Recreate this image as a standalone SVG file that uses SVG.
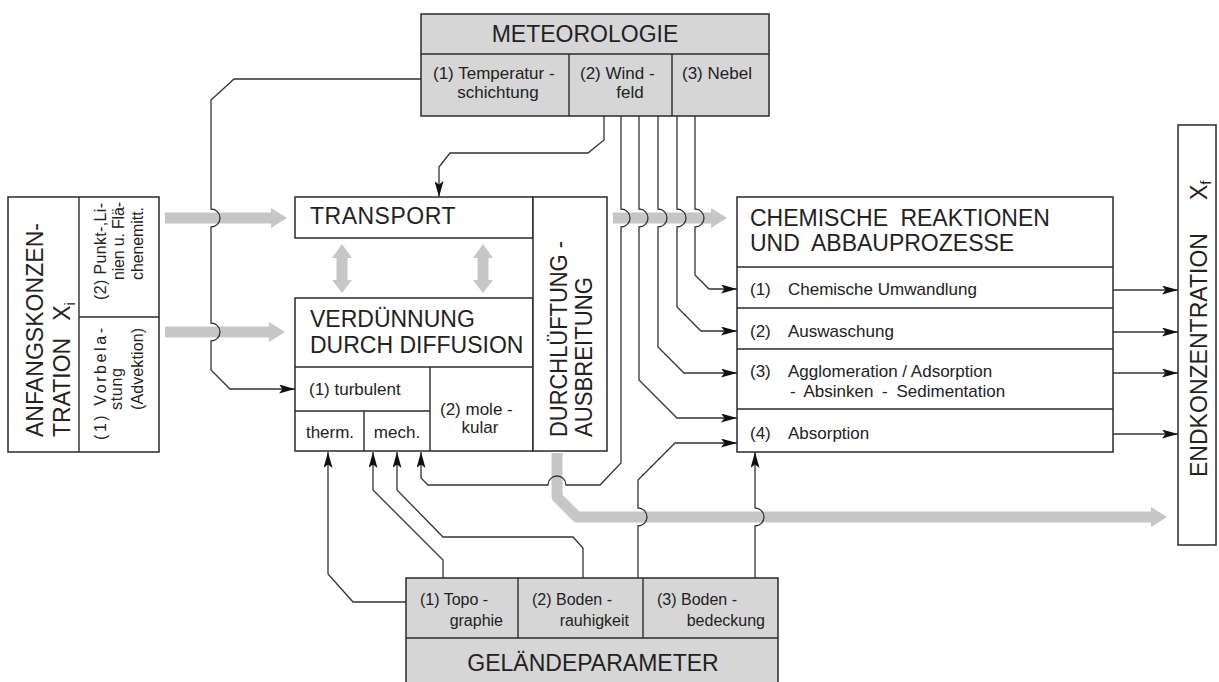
<svg xmlns="http://www.w3.org/2000/svg" width="1219" height="682" viewBox="0 0 1219 682">
<style>
  text { font-family: "Liberation Sans", Arial, sans-serif; fill: #222; }
  .big { font-size: 23px; }
  .sm { font-size: 17px; }
  .gs { font-size: 16px; }
  .rs { font-size: 16px; }
  .box { fill: #fff; stroke: #2a2a2a; stroke-width: 1.5; }
  .gbox { fill: #d6d6d6; stroke: #2a2a2a; stroke-width: 1.5; }
  .div { stroke: #2a2a2a; stroke-width: 1.4; fill: none; }
  .con { stroke: #333; stroke-width: 1.3; fill: none; }
  .arr { marker-end: url(#ah); }
  .flow { stroke: #c6c6c6; stroke-width: 11; fill: none; stroke-linejoin: round; }
  .fhead { fill: #c6c6c6; }
</style>
<defs>
  <marker id="ah" viewBox="0 0 16 9" refX="16" refY="4.5" markerWidth="16" markerHeight="9" markerUnits="userSpaceOnUse" orient="auto">
    <path d="M0,0 L16,4.5 L0,9 L3.5,4.5 Z" fill="#111"/>
  </marker>
</defs>
<rect width="1219" height="682" fill="#fff"/>

<g id="flows">
  <line class="flow" x1="165" y1="218" x2="272" y2="218"/>
  <polygon class="fhead" points="271,208 287,218 271,228"/>
  <line class="flow" x1="165" y1="332" x2="270" y2="332"/>
  <polygon class="fhead" points="269,322 285,332 269,342"/>
  <line class="flow" x1="613" y1="218" x2="712" y2="218"/>
  <polygon class="fhead" points="711,208 727,218 711,228"/>
  <line class="flow" x1="342" y1="256" x2="342" y2="282"/>
  <polygon class="fhead" points="332,258 342,244 352,258"/>
  <polygon class="fhead" points="332,280 342,293 352,280"/>
  <line class="flow" x1="483" y1="256" x2="483" y2="282"/>
  <polygon class="fhead" points="473,258 483,244 493,258"/>
  <polygon class="fhead" points="473,280 483,293 493,280"/>
  <path class="flow" d="M557,453 V497 L577,517 H1152"/>
  <polygon class="fhead" points="1151,507 1167,517 1151,527"/>
</g>

<g id="meteorologie">
  <rect class="gbox" x="421" y="14" width="348" height="102"/>
  <line class="div" x1="421" y1="54" x2="769" y2="54"/>
  <line class="div" x1="569" y1="54" x2="569" y2="116"/>
  <line class="div" x1="672" y1="54" x2="672" y2="116"/>
  <text class="big" x="585" y="42" text-anchor="middle">METEOROLOGIE</text>
  <text class="sm" x="433" y="79">(1) Temperatur -</text>
  <text class="sm" x="498" y="98" text-anchor="middle">schichtung</text>
  <text class="sm" x="580" y="79">(2) Wind -</text>
  <text class="sm" x="630" y="98" text-anchor="middle">feld</text>
  <text class="sm" x="682" y="79">(3) Nebel</text>
</g>

<g id="anfangskonzentration">
  <rect class="box" x="8" y="197" width="151" height="255"/>
  <line class="div" x1="79" y1="197" x2="79" y2="452"/>
  <line class="div" x1="79" y1="317" x2="159" y2="317"/>
  <text class="big" transform="translate(43,437) rotate(-90)" textLength="214" lengthAdjust="spacing">ANFANGSKONZEN-</text>
  <text class="big" transform="translate(70,437) rotate(-90)">TRATION<tspan dx="17">X</tspan><tspan font-size="15" dy="5">i</tspan></text>
  <text class="rs" transform="translate(106,440) rotate(-90)" textLength="112" lengthAdjust="spacing">(1) Vorbela-</text>
  <text class="rs" transform="translate(122,410) rotate(-90)" textLength="42" lengthAdjust="spacing">stung</text>
  <text class="rs" transform="translate(143,410) rotate(-90)" textLength="82" lengthAdjust="spacing">(Advektion)</text>
  <text class="rs" transform="translate(106,300) rotate(-90)" textLength="97" lengthAdjust="spacing">(2) Punkt-,Li-</text>
  <text class="rs" transform="translate(124,280) rotate(-90)" textLength="78" lengthAdjust="spacing">nien u. Flä-</text>
  <text class="rs" transform="translate(143,280) rotate(-90)" textLength="73" lengthAdjust="spacing">chenemitt.</text>
</g>

<g id="transport">
  <rect class="box" x="295" y="197" width="238" height="41"/>
  <text class="big" x="310" y="224" letter-spacing="0.5">TRANSPORT</text>
</g>

<g id="verduennung">
  <rect class="box" x="295" y="298" width="238" height="153"/>
  <line class="div" x1="295" y1="367" x2="533" y2="367"/>
  <line class="div" x1="430" y1="367" x2="430" y2="451"/>
  <line class="div" x1="295" y1="411" x2="430" y2="411"/>
  <line class="div" x1="364" y1="411" x2="364" y2="451"/>
  <text class="big" x="310" y="327">VERDÜNNUNG</text>
  <text class="big" x="310" y="353">DURCH DIFFUSION</text>
  <text class="sm" x="309" y="395">(1) turbulent</text>
  <text class="sm" x="330" y="438" text-anchor="middle">therm.</text>
  <text class="sm" x="397" y="438" text-anchor="middle">mech.</text>
  <text class="sm" x="440" y="415">(2) mole -</text>
  <text class="sm" x="480" y="433" text-anchor="middle">kular</text>
</g>

<g id="durchlueftung">
  <rect class="box" x="533" y="197" width="74" height="254"/>
  <text class="big" transform="translate(567,437) rotate(-90)" textLength="196" lengthAdjust="spacingAndGlyphs">DURCHLÜFTUNG -</text>
  <text class="big" transform="translate(592,437) rotate(-90)" textLength="160" lengthAdjust="spacingAndGlyphs">AUSBREITUNG</text>
</g>

<g id="chemische-reaktionen">
  <rect class="box" x="737" y="197" width="376" height="255"/>
  <line class="div" x1="737" y1="267" x2="1113" y2="267"/>
  <line class="div" x1="737" y1="308" x2="1113" y2="308"/>
  <line class="div" x1="737" y1="349" x2="1113" y2="349"/>
  <line class="div" x1="737" y1="409" x2="1113" y2="409"/>
  <text class="big" x="750" y="226" word-spacing="6">CHEMISCHE REAKTIONEN</text>
  <text class="big" x="750" y="251" word-spacing="6">UND ABBAUPROZESSE</text>
  <text class="sm" x="750" y="295">(1)</text>
  <text class="sm" x="788" y="295">Chemische Umwandlung</text>
  <text class="sm" x="750" y="337">(2)</text>
  <text class="sm" x="788" y="337">Auswaschung</text>
  <text class="sm" x="750" y="377">(3)</text>
  <text class="sm" x="788" y="377">Agglomeration / Adsorption</text>
  <text class="sm" x="790" y="397" word-spacing="4">- Absinken - Sedimentation</text>
  <text class="sm" x="750" y="439">(4)</text>
  <text class="sm" x="788" y="439">Absorption</text>
</g>

<g id="endkonzentration">
  <rect class="box" x="1178" y="125" width="38" height="420"/>
  <text class="big" transform="translate(1207,477) rotate(-90)" textLength="244" lengthAdjust="spacing">ENDKONZENTRATION</text>
  <text class="big" transform="translate(1207,200) rotate(-90)">X<tspan font-size="15" dy="4">f</tspan></text>
</g>

<g id="gelaendeparameter">
  <rect class="gbox" x="406" y="578" width="372" height="112"/>
  <line class="div" x1="406" y1="638" x2="778" y2="638"/>
  <line class="div" x1="518" y1="578" x2="518" y2="638"/>
  <line class="div" x1="643" y1="578" x2="643" y2="638"/>
  <text class="gs" x="420" y="605">(1) Topo -</text>
  <text class="gs" x="503" y="626" text-anchor="end">graphie</text>
  <text class="gs" x="532" y="605">(2) Boden -</text>
  <text class="gs" x="629" y="626" text-anchor="end">rauhigkeit</text>
  <text class="gs" x="657" y="605">(3) Boden -</text>
  <text class="gs" x="765" y="626" text-anchor="end">bedeckung</text>
  <text class="big" x="593" y="671" text-anchor="middle">GELÄNDEPARAMETER</text>
</g>

<g id="connectors">
  <path class="con arr" d="M421,79 H234 L211,100 V209 A9,9 0 0 1 211,227 V323 A9,9 0 0 1 211,341 V370 L230,389 H295"/>
  <path class="con arr" d="M604,116 V140 L588,153 H450 L439,167 V197"/>
  <path class="con arr" d="M695,116 V209 A9,9 0 0 1 695,227 V275 L709,289 H737"/>
  <path class="con arr" d="M677,116 V209 A9,9 0 0 1 677,227 V307 L701,331 H737"/>
  <path class="con arr" d="M658,116 V209 A9,9 0 0 1 658,227 V347 L684,373 H737"/>
  <path class="con arr" d="M639,116 V209 A9,9 0 0 1 639,227 V380 L677,418 H737"/>
  <path class="con arr" d="M621,116 V209 A9,9 0 0 1 621,227 V463 L600,485 H566 A9,9 0 0 0 548,485 H428 L421,478 V452"/>
  <path class="con arr" d="M638,578 V526 A9,9 0 0 0 638,508 V480 L675,443 H737"/>
  <path class="con arr" d="M755,578 V526 A9,9 0 0 0 755,508 V452"/>
  <path class="con arr" d="M406,602 H353 L328,574 V452"/>
  <path class="con arr" d="M443,578 V560 L373,490 V452"/>
  <path class="con arr" d="M583,578 V548 L573,537 H443 L397,490 V452"/>
  <path class="con arr" d="M1113,290 H1178"/>
  <path class="con arr" d="M1113,332 H1178"/>
  <path class="con arr" d="M1113,373 H1178"/>
  <path class="con arr" d="M1113,434 H1178"/>
</g>
</svg>
